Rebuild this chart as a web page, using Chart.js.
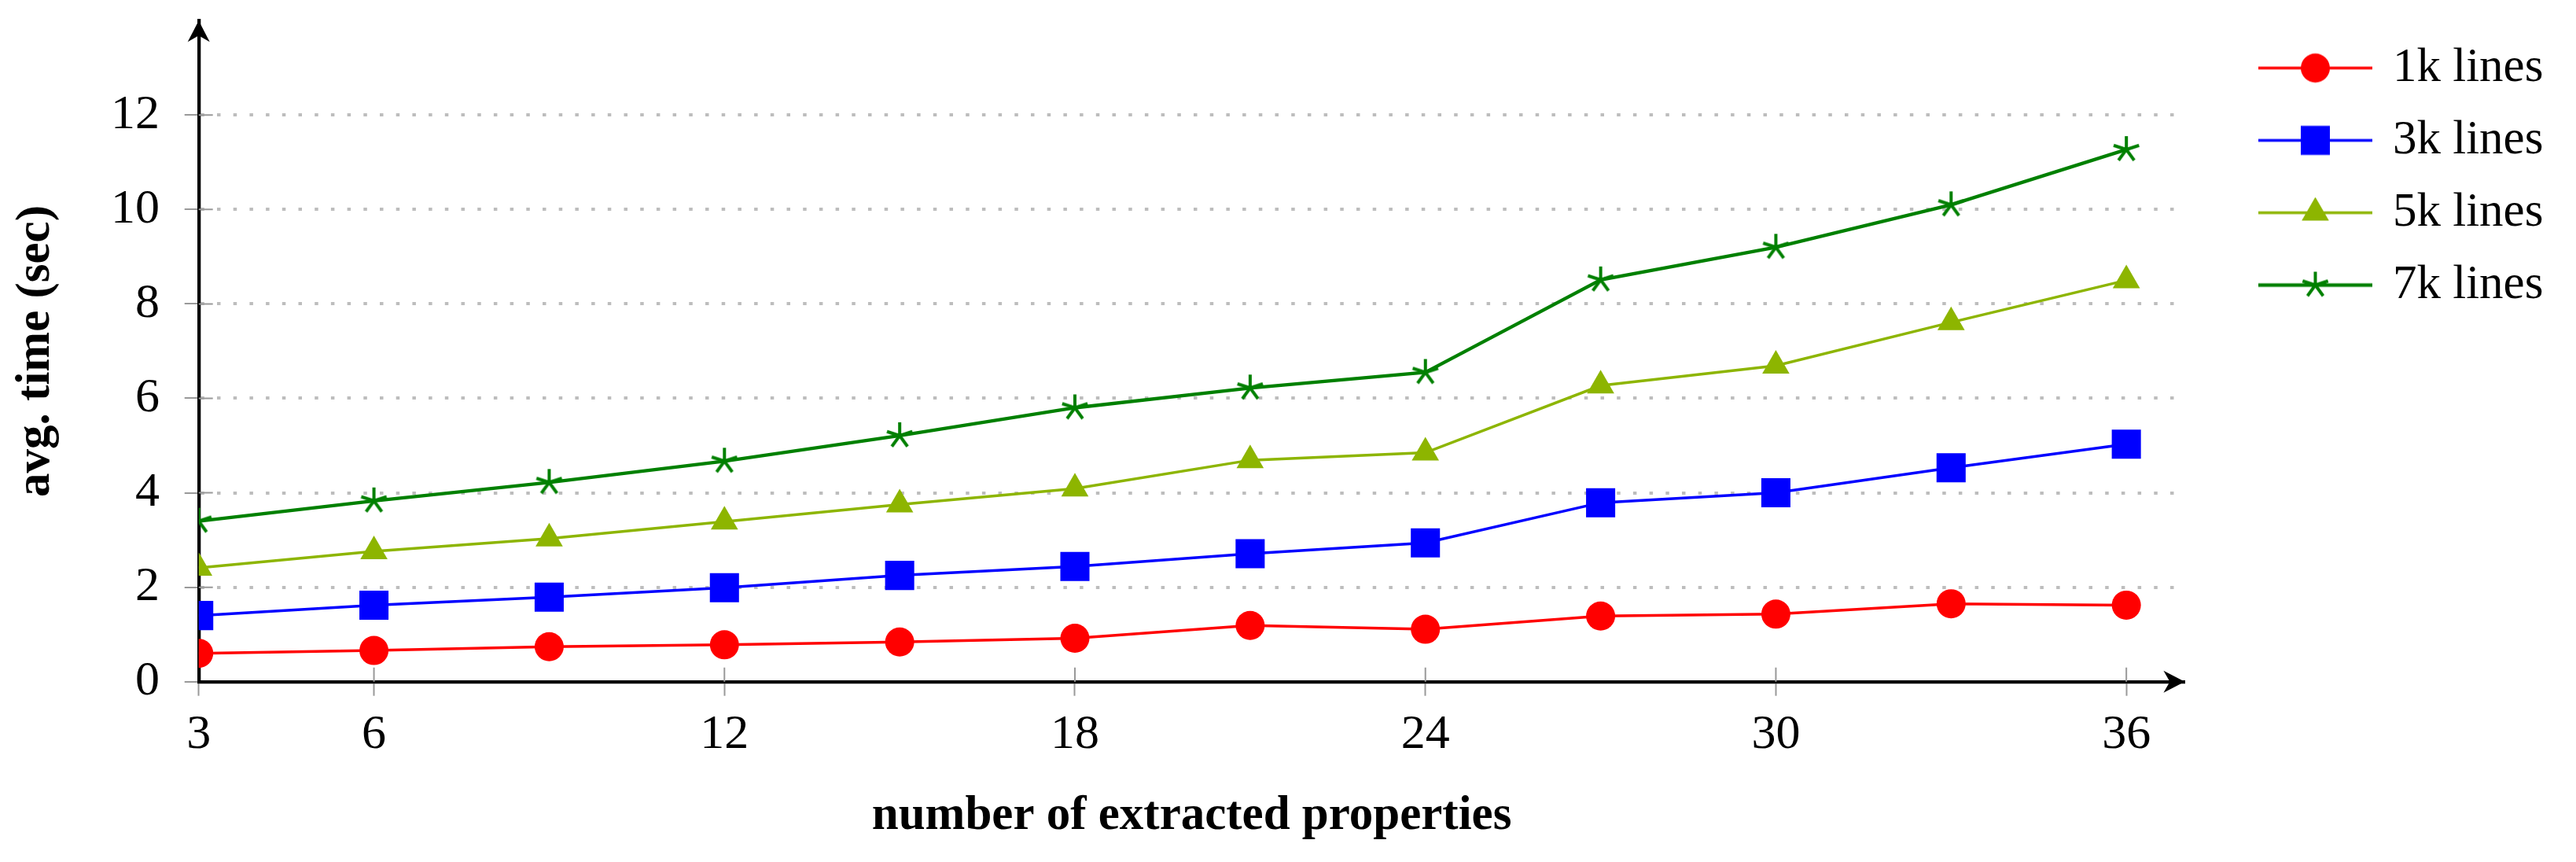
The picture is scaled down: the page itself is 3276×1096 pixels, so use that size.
<!DOCTYPE html>
<html>
<head>
<meta charset="utf-8">
<script src="https://cdn.jsdelivr.net/npm/chart.js@4.4.1/dist/chart.umd.min.js"></script>
<style>
  html, body { margin: 0; padding: 0; background: #fff; }
  #wrap { width: 3276px; height: 1096px; position: relative; }
</style>
</head>
<body>
<div id="wrap"><canvas id="timeChart"></canvas></div>
<script>
const properties = [3, 6, 9, 12, 15, 18, 21, 24, 27, 30, 33, 36];
const lines1k = [0.60, 0.66, 0.74, 0.78, 0.84, 0.92, 1.19, 1.11, 1.39, 1.43, 1.65, 1.62];
const lines3k = [1.40, 1.62, 1.79, 1.99, 2.25, 2.44, 2.71, 2.94, 3.79, 4.00, 4.53, 5.03];
const lines5k = [2.41, 2.76, 3.03, 3.39, 3.75, 4.09, 4.69, 4.85, 6.27, 6.69, 7.61, 8.50];
const lines7k = [3.40, 3.83, 4.22, 4.67, 5.21, 5.80, 6.22, 6.55, 8.51, 9.20, 10.10, 11.27];
const seriesLabels = ['1k lines', '3k lines', '5k lines', '7k lines'];
const xTickValues = [3, 6, 12, 18, 24, 30, 36];
const yTickValues = [0, 2, 4, 6, 8, 10, 12];

const serif = "'Liberation Serif', 'DejaVu Serif', serif";
const red = '#ff0000';
const blue = '#0000ff';
const lime = '#8db500';
const green = '#008000';

// little marker painter, used for the star points and the legend icons
function drawMarker(ctx, style, color, cx, cy) {
    ctx.fillStyle = color;
    ctx.strokeStyle = color;
    if (style === 'circle') {
        ctx.beginPath();
        ctx.arc(cx, cy, 18.5, 0, Math.PI * 2);
        ctx.fill();
    } else if (style === 'rect') {
        ctx.fillRect(cx - 18.5, cy - 18.5, 37, 37);
    } else if (style === 'triangle') {
        const r = 20;
        ctx.beginPath();
        ctx.moveTo(cx, cy - r);
        ctx.lineTo(cx + r * 0.866, cy + r / 2);
        ctx.lineTo(cx - r * 0.866, cy + r / 2);
        ctx.closePath();
        ctx.fill();
    } else if (style === 'star') {
        ctx.lineWidth = 4;
        ctx.beginPath();
        for (let k = 0; k < 5; k++) {
            const a = -Math.PI / 2 + k * 2 * Math.PI / 5;
            ctx.moveTo(cx, cy);
            ctx.lineTo(cx + 17 * Math.cos(a), cy + 17 * Math.sin(a));
        }
        ctx.stroke();
    }
}

const starPoint = document.createElement('canvas');
starPoint.width = 40;
starPoint.height = 40;
drawMarker(starPoint.getContext('2d'), 'star', green, 20, 20);

const markerStyles = ['circle', 'rect', 'triangle', 'star'];
const seriesColors = [red, blue, lime, green];
const lineWidths = [3.5, 3.5, 3.5, 4.3];
const legendIcons = markerStyles.map((style, i) => {
    const c = document.createElement('canvas');
    c.width = 145;
    c.height = 40;
    const g = c.getContext('2d');
    g.strokeStyle = seriesColors[i];
    g.lineWidth = lineWidths[i];
    g.beginPath();
    g.moveTo(0, 20);
    g.lineTo(145, 20);
    g.stroke();
    drawMarker(g, style, seriesColors[i], 72.5, 20);
    return c;
});

const toPoints = values => values.map((v, i) => ({ x: properties[i], y: v }));

const axisExtras = {
    id: 'axisExtras',
    beforeDatasetsDraw(chart) {
        const { ctx, chartArea: a, scales: { x, y } } = chart;
        ctx.save();
        ctx.strokeStyle = '#999';
        ctx.lineWidth = 2;
        ctx.beginPath();
        y.ticks.forEach(t => {
            if (t.value === y.min) return;
            const py = y.getPixelForValue(t.value);
            ctx.moveTo(a.left, py);
            ctx.lineTo(a.left + 18, py);
        });
        x.ticks.forEach(t => {
            if (t.value === x.min) return;
            const px = x.getPixelForValue(t.value);
            ctx.moveTo(px, a.bottom);
            ctx.lineTo(px, a.bottom - 18);
        });
        ctx.stroke();
        ctx.restore();
    },
    afterDraw(chart) {
        const { ctx, chartArea: a } = chart;
        ctx.save();
        ctx.fillStyle = '#000';
        // arrow on top of the y axis
        ctx.beginPath();
        ctx.moveTo(a.left, a.top);
        ctx.lineTo(a.left + 14, a.top + 27);
        ctx.lineTo(a.left, a.top + 19);
        ctx.lineTo(a.left - 14, a.top + 27);
        ctx.closePath();
        ctx.fill();
        // arrow at the end of the x axis
        ctx.beginPath();
        ctx.moveTo(a.right, a.bottom);
        ctx.lineTo(a.right - 27, a.bottom - 14);
        ctx.lineTo(a.right - 19, a.bottom);
        ctx.lineTo(a.right - 27, a.bottom + 14);
        ctx.closePath();
        ctx.fill();
        ctx.restore();
    }
};

const ctx = document.getElementById('timeChart').getContext('2d');
const timeChart = new Chart(ctx, {
    type: 'line',
    data: {
        datasets: [
            {
                label: seriesLabels[0],
                data: toPoints(lines1k),
                borderColor: red,
                backgroundColor: red,
                borderWidth: lineWidths[0],
                pointStyle: 'circle',
                pointRadius: 18.5,
                pointBorderWidth: 0,
                pointBackgroundColor: red
            },
            {
                label: seriesLabels[1],
                data: toPoints(lines3k),
                borderColor: blue,
                backgroundColor: blue,
                borderWidth: lineWidths[1],
                pointStyle: 'rect',
                pointRadius: 26.2,
                pointBorderWidth: 0,
                pointBackgroundColor: blue
            },
            {
                label: seriesLabels[2],
                data: toPoints(lines5k),
                borderColor: lime,
                backgroundColor: lime,
                borderWidth: lineWidths[2],
                pointStyle: 'triangle',
                pointRadius: 20,
                pointBorderWidth: 0,
                pointBackgroundColor: lime
            },
            {
                label: seriesLabels[3],
                data: toPoints(lines7k),
                borderColor: green,
                backgroundColor: green,
                borderWidth: lineWidths[3],
                pointStyle: starPoint,
                pointRadius: 17
            }
        ]
    },
    options: {
        responsive: true,
        maintainAspectRatio: false,
        animation: false,
        devicePixelRatio: 1,
        layout: { padding: { left: 10, top: 25, right: 31.6, bottom: 21 } },
        elements: { line: { tension: 0 } },
        plugins: {
            tooltip: { enabled: false },
            legend: {
                position: 'right',
                align: 'start',
                labels: {
                    usePointStyle: true,
                    pointStyleWidth: 136,
                    padding: 31,
                    color: '#000',
                    font: { family: serif, size: 61 },
                    generateLabels: chart => chart.data.datasets.map((ds, i) => ({
                        text: ds.label,
                        pointStyle: legendIcons[i],
                        datasetIndex: i,
                        hidden: false,
                        lineWidth: 0,
                        fillStyle: ds.borderColor,
                        strokeStyle: ds.borderColor,
                        fontColor: '#000'
                    }))
                }
            }
        },
        scales: {
            x: {
                type: 'linear',
                min: 3,
                max: 37,
                afterBuildTicks: s => { s.ticks = xTickValues.map(v => ({ value: v })); },
                afterFit: s => { s.height = 208.3; },
                grid: { drawOnChartArea: false, drawTicks: true, tickLength: 18, tickColor: '#999', tickWidth: 2 },
                border: { display: true, color: '#000', width: 4.3 },
                ticks: { padding: 13, color: '#000', font: { family: serif, size: 62 }, maxRotation: 0, autoSkip: false },
                title: {
                    display: true,
                    text: 'number of extracted properties',
                    color: '#000',
                    font: { family: serif, size: 61, weight: 'bold' },
                    padding: 0
                }
            },
            y: {
                type: 'linear',
                min: 0,
                max: 14,
                afterBuildTicks: s => { s.ticks = yTickValues.map(v => ({ value: v })); },
                afterFit: s => { s.width = 242.7; s.paddingTop = 0; s.paddingBottom = 0; },
                grid: {
                    color: c => (c.tick && c.tick.value === 0) ? 'rgba(0,0,0,0)' : '#bdbdbd',
                    lineWidth: 4,
                    drawTicks: true,
                    tickLength: 18,
                    tickColor: '#999',
                    tickWidth: 2
                },
                border: { display: true, color: '#000', width: 4.3, dash: [4.5, 16.2] },
                ticks: { padding: 31.7, color: '#000', font: { family: serif, size: 62 } },
                title: {
                    display: true,
                    text: 'avg. time (sec)',
                    color: '#000',
                    font: { family: serif, size: 61, weight: 'bold' },
                    padding: 0
                }
            },
            y2: {
                type: 'linear',
                position: 'right',
                display: true,
                grid: { display: false },
                border: { display: false },
                ticks: { display: false },
                afterFit: s => { s.width = 67; s.paddingTop = 0; s.paddingBottom = 0; }
            }
        }
    },
    plugins: [axisExtras]
});
</script>
</body>
</html>
